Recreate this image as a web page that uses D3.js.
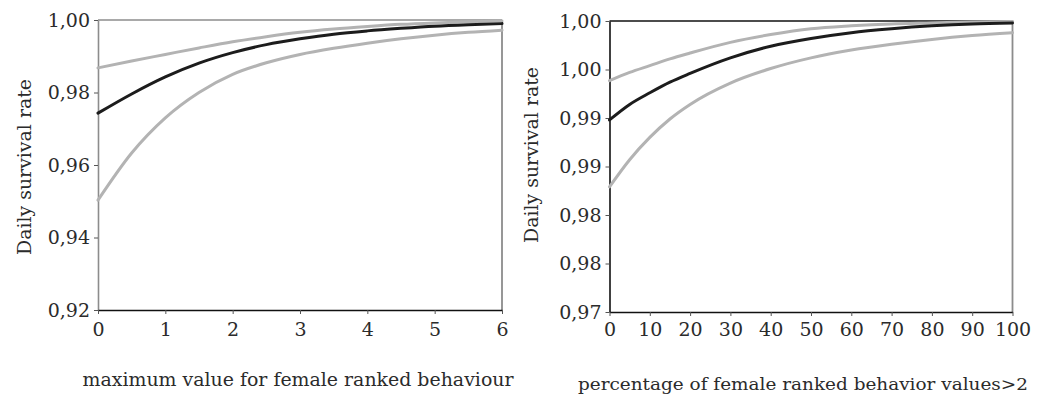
<!DOCTYPE html>
<html>
<head>
<meta charset="utf-8">
<script src="https://cdn.jsdelivr.net/npm/d3@7"></script>
<style>
  body { margin: 0; background: #fff; }
  svg { display: block; }
</style>
</head>
<body>
<div id="chart"></div>
<script>
// left panel: maximum value for female ranked behaviour
const leftX = [0, 0.5, 1, 1.5, 2, 2.5, 3, 3.5, 4, 4.5, 5, 5.5, 6];
const leftMean = [0.9743, 0.9796, 0.9843, 0.9881, 0.9910, 0.9932, 0.9948, 0.9961, 0.9970, 0.9977, 0.9983, 0.9987, 0.9990];
const leftUpper = [0.9868, 0.9887, 0.9905, 0.9923, 0.9940, 0.9954, 0.9966, 0.9975, 0.9982, 0.9988, 0.9992, 0.9995, 0.9997];
const leftLower = [0.9503, 0.9633, 0.9730, 0.9800, 0.9850, 0.9882, 0.9905, 0.9922, 0.9936, 0.9948, 0.9958, 0.9966, 0.9972];
const leftXTicks = [0, 1, 2, 3, 4, 5, 6];
const leftYTicks = [0.92, 0.94, 0.96, 0.98, 1.00];

// right panel: percentage of female ranked behavior values>2
const rightX = [0, 5, 10, 15, 20, 30, 40, 50, 60, 70, 80, 90, 100];
const rightMean = [0.9898, 0.9914, 0.9926, 0.9937, 0.9946, 0.9962, 0.9974, 0.9982, 0.9988, 0.9992, 0.9995, 0.9997, 0.9998];
const rightUpper = [0.99385, 0.9947, 0.9954, 0.9961, 0.9967, 0.9978, 0.9986, 0.9992, 0.9995, 0.9997, 0.9998, 0.9999, 0.99995];
const rightLower = [0.9829, 0.9857, 0.9880, 0.9899, 0.9914, 0.9936, 0.9951, 0.9962, 0.9970, 0.9976, 0.9981, 0.9985, 0.9988];
const rightXTicks = [0, 10, 20, 30, 40, 50, 60, 70, 80, 90, 100];
const rightYTicks = [0.970, 0.975, 0.980, 0.985, 0.990, 0.995, 1.000];

const yTitle = "Daily survival rate";
const leftXTitle = "maximum value for female ranked behaviour";
const rightXTitle = "percentage of female ranked behavior values>2";

const width = 1040, height = 400;
const font = "'DejaVu Serif', serif";
const textColor = "#2b2b2b";
// two decimals, rounded half up, decimal comma (0.995 -> "1,00")
const fmt = v => (Math.round(v * 100 + 1e-6) / 100).toFixed(2).replace(".", ",");

const svg = d3.select("#chart").append("svg")
    .attr("width", width)
    .attr("height", height)
    .style("font-family", font);

function drawPanel(opts) {
    const x = d3.scaleLinear().domain(opts.xDomain).range([opts.left, opts.right]);
    const y = d3.scaleLinear().domain(opts.yDomain).range([opts.bottom, opts.top]);
    const g = svg.append("g");

    // frame lines (top and right are drawn like the original)
    g.append("line")
        .attr("x1", opts.left).attr("x2", opts.right)
        .attr("y1", opts.top).attr("y2", opts.top)
        .attr("stroke", opts.topColor).attr("stroke-width", 1.6);
    g.append("line")
        .attr("x1", opts.right).attr("x2", opts.right)
        .attr("y1", opts.top).attr("y2", opts.bottom)
        .attr("stroke", "#8c8c8c").attr("stroke-width", 1.8);

    // y axis
    g.append("g")
        .attr("transform", `translate(${opts.left},0)`)
        .call(d3.axisLeft(y).tickValues(opts.yTicks).tickFormat(fmt).tickSize(4).tickPadding(opts.yPad).tickSizeOuter(0))
        .attr("font-family", null)
        .call(a => a.select(".domain").attr("stroke", opts.yAxisColor).attr("stroke-width", 1.6))
        .call(a => a.selectAll(".tick line").attr("stroke", "#555"))
        .call(a => a.selectAll(".tick text")
            .attr("fill", textColor)
            .style("font-size", "19px"));

    // x axis
    g.append("g")
        .attr("transform", `translate(0,${opts.bottom})`)
        .call(d3.axisBottom(x).tickValues(opts.xTicks).tickFormat(d3.format("d")).tickSize(4).tickPadding(opts.xPad).tickSizeOuter(0))
        .attr("font-family", null)
        .call(a => a.select(".domain").attr("stroke", "#111").attr("stroke-width", 1.5))
        .call(a => a.selectAll(".tick line").attr("stroke", "#555"))
        .call(a => a.selectAll(".tick text")
            .attr("fill", textColor)
            .style("font-size", "19px"));

    // curves: bounds in grey, estimate in black on top
    const line = d3.line()
        .x(d => x(d[0]))
        .y(d => y(d[1]))
        .curve(d3.curveMonotoneX);

    const series = [
        { values: opts.upper, color: "#b3b3b3" },
        { values: opts.lower, color: "#b3b3b3" },
        { values: opts.mean, color: "#1c1c1c" }
    ];
    series.forEach(s => {
        g.append("path")
            .attr("fill", "none")
            .attr("stroke", s.color)
            .attr("stroke-width", 3)
            .attr("stroke-linecap", "round")
            .attr("d", line(opts.xs.map((v, i) => [v, s.values[i]])));
    });

    // axis titles
    g.append("text")
        .attr("x", opts.xTitleX)
        .attr("y", opts.xTitleY)
        .attr("text-anchor", "middle")
        .attr("fill", textColor)
        .style("font-size", opts.xTitleSize)
        .attr("textLength", opts.xTitleLen)
        .attr("lengthAdjust", "spacingAndGlyphs")
        .text(opts.xTitle);

    g.append("text")
        .attr("transform", `translate(${opts.yTitleX},${opts.yTitleY}) rotate(-90)`)
        .attr("text-anchor", "middle")
        .attr("fill", textColor)
        .style("font-size", "19px")
        .attr("textLength", 176)
        .attr("lengthAdjust", "spacingAndGlyphs")
        .text(yTitle);
}

drawPanel({
    xs: leftX, mean: leftMean, upper: leftUpper, lower: leftLower,
    xDomain: [0, 6], yDomain: [0.92, 1.0],
    xTicks: leftXTicks, yTicks: leftYTicks,
    left: 98, right: 502, top: 20, bottom: 310,
    yPad: 4, xPad: 9,
    topColor: "#8c8c8c", yAxisColor: "#8c8c8c",
    xTitle: leftXTitle, xTitleX: 298, xTitleY: 386, xTitleLen: 431, xTitleSize: "19px",
    yTitleX: 31, yTitleY: 167
});

drawPanel({
    xs: rightX, mean: rightMean, upper: rightUpper, lower: rightLower,
    xDomain: [0, 100], yDomain: [0.97, 1.0],
    xTicks: rightXTicks, yTicks: rightYTicks,
    left: 609.5, right: 1012.5, top: 21, bottom: 312,
    yPad: 4, xPad: 7,
    topColor: "#111", yAxisColor: "#111",
    xTitle: rightXTitle, xTitleX: 803, xTitleY: 390, xTitleLen: 450, xTitleSize: "17px",
    yTitleX: 538, yTitleY: 155
});
</script>
</body>
</html>
